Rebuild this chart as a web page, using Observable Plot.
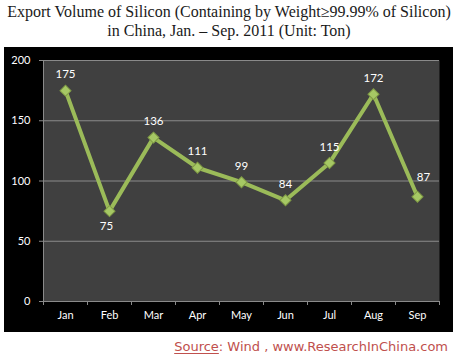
<!DOCTYPE html>
<html>
<head>
<meta charset="utf-8">
<script src="https://cdn.jsdelivr.net/npm/d3@7"></script>
<script src="https://cdn.jsdelivr.net/npm/@observablehq/plot@0.6"></script>
<style>
  html, body { margin: 0; padding: 0; background: #fff; }
  #wrap { position: relative; width: 458px; height: 362px; overflow: hidden; }
  #title { position: absolute; left: 0; top: 2px; width: 458px; text-align: center;
           font-family: "Liberation Serif", serif; font-size: 16px; line-height: 19px; color: #1a1a1a; }
  #chart { position: absolute; left: 4px; top: 47px; }
  #source { position: absolute; right: 10px; top: 339px; font-family: "DejaVu Sans", sans-serif;
            font-size: 13px; color: #c0504d; white-space: nowrap; }
  #source u { text-decoration-thickness: 1px; text-underline-offset: 2px; }
</style>
</head>
<body>
<div id="wrap">
  <div id="title">Export Volume of Silicon (Containing by Weight≥99.99% of Silicon)<br>in China, Jan. – Sep. 2011 (Unit: Ton)</div>
  <div id="chart"></div>
  <div id="source"><u>Source</u>: Wind , www.ResearchInChina.com</div>
</div>
<script>
const months = ["Jan", "Feb", "Mar", "Apr", "May", "Jun", "Jul", "Aug", "Sep"];
const volumes = [175, 75, 136, 111, 99, 84, 115, 172, 87];
const yTicks = [0, 50, 100, 150, 200];

const data = months.map((m, i) => ({ month: m, pos: i + 0.5, value: volumes[i] }));
const gridColor = "#8a8a8a";
const labelOpts = { x: "pos", y: "value", text: d => String(d.value), fill: "#fff", fontSize: 11.5 };

const chart = Plot.plot({
  width: 449,
  height: 285,
  marginLeft: 39,
  marginRight: 14,
  marginTop: 13,
  marginBottom: 31,
  style: { background: "#000", color: "#fff", fontFamily: "Lato, sans-serif", fontSize: "11px" },
  x: { type: "linear", domain: [0, months.length] },
  y: { domain: [0, 200] },
  marks: [
    Plot.frame({ fill: "#404040", stroke: null }),
    Plot.ruleY(yTicks.filter(d => d > 0), { stroke: gridColor, strokeWidth: 1 }),
    Plot.ruleY([0], { stroke: gridColor }),
    Plot.ruleX([0], { stroke: gridColor }),
    Plot.axisY({ ticks: yTicks, tickSize: 4, tickPadding: 9, stroke: gridColor, fill: "#fff", label: null, fontSize: 11 }),
    Plot.axisX({ ticks: d3.range(months.length + 1), tickSize: 4, tickFormat: () => "", stroke: gridColor, label: null }),
    Plot.axisX({ ticks: data.map(d => d.pos), tickSize: 0, tickPadding: 10, tickFormat: d => months[Math.floor(d)], fill: "#fff", label: null, fontSize: 11 }),
    Plot.line(data, { x: "pos", y: "value", stroke: "#9bbb59", strokeWidth: 4 }),
    Plot.dot(data, { x: "pos", y: "value", symbol: "square", r: 4.4, rotate: 45, fill: "#a6c864", stroke: "#7f9a45", strokeWidth: 1 }),
    Plot.text(data, { ...labelOpts, filter: d => d.month !== "Feb" && d.month !== "Sep", dy: -16 }),
    Plot.text(data, { ...labelOpts, filter: d => d.month === "Feb", dy: 15, dx: -3 }),
    Plot.text(data, { ...labelOpts, filter: d => d.month === "Sep", dy: -19, dx: 6 })
  ]
});
document.getElementById("chart").appendChild(chart);
</script>
</body>
</html>
